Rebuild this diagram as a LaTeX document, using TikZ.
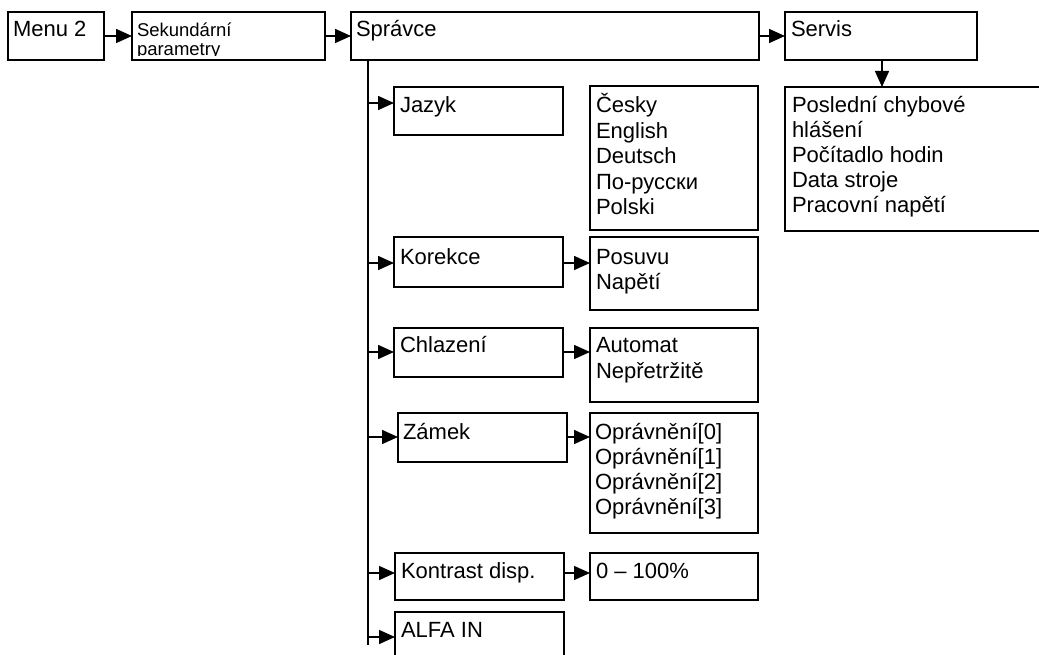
\documentclass[tikz,border=0pt]{standalone}
\usepackage{fontspec}
\setmainfont{Liberation Sans}
\usetikzlibrary{arrows.meta}
\tikzset{
  box/.style={draw, line width=1.5pt, inner sep=0pt, outer sep=0pt, anchor=north west},
  txt/.style={anchor=base west, inner sep=0pt, outer sep=0pt, font=\fontsize{22}{25.5}\selectfont},
  smalltxt/.style={anchor=base west, inner sep=0pt, outer sep=0pt, font=\fontsize{18.5}{19}\selectfont},
  arr/.style={line width=1.5pt, -{Triangle[length=16pt,width=14pt]}},
  trunk/.style={line width=1.5pt}
}
\begin{document}
\begin{tikzpicture}[x=1pt,y=-1pt]
\useasboundingbox (0,0) rectangle (1039,655);
\fill[white] (0,0) rectangle (1039,655);
\begin{scope}
\clip (0,0) rectangle (1039,655);
% top row
\node[box, minimum width=96pt, minimum height=48pt] (menu) at (8,12) {};
\node[txt] (menut) at (13,37) {Menu 2};
\node[box, minimum width=193pt, minimum height=48pt] (sek) at (132,12) {};
\begin{scope}
\clip (132,12) rectangle (325,55.2);
\node[smalltxt] (sekt1) at (137,36.5) {Sekundární};
\node[smalltxt] (sekt2) at (137,55.5) {parametry};
\end{scope}
\node[box, minimum width=408pt, minimum height=48pt] (spr) at (351,12) {};
\node[txt] (sprt) at (356,37) {Správce};
\node[box, minimum width=192pt, minimum height=48pt] (serv) at (785,12) {};
\node[txt] (servt) at (791,37) {Servis};
\node[box, minimum width=280pt, minimum height=144pt] (servopt) at (785,87) {};
\foreach \t [count=\i] in {Poslední chybové, hlášení, Počítadlo hodin, Data stroje, Pracovní napětí}
  \node[txt] (sv\i) at (792,{113+25*(\i-1)}) {\t};

\draw[arr] (menu.east) -- (sek.west);
\draw[arr] (sek.east) -- (spr.west);
\draw[arr] (spr.east) -- (serv.west);
\coordinate (servdown) at (882,60);
\draw[arr] (servdown) -- (servdown |- servopt.north);

% trunk
\coordinate (ttop) at (368,60);
\coordinate (tbot) at (368,645);
\draw[trunk] (ttop) -- (tbot);

% Jazyk
\node[box, minimum width=169pt, minimum height=48pt] (jaz) at (394,87) {};
\node[txt] (jazt) at (400,113) {Jazyk};
\node[box, minimum width=168pt, minimum height=144pt] (jazopt) at (590,86) {};
\foreach \t [count=\i] in {Česky, English, Deutsch, По-русски, Polski}
  \node[txt] (jz\i) at (596,{113+25.5*(\i-1)}) {\t};
\coordinate (b1) at (368,103);
\draw[arr] (b1) -- (b1 -| jaz.west);

% Korekce
\node[box, minimum width=169pt, minimum height=50pt] (kor) at (394,237) {};
\node[txt] (kort) at (400,265) {Korekce};
\node[box, minimum width=168pt, minimum height=73pt] (koropt) at (590,237) {};
\node[txt] (ko1) at (596,265) {Posuvu};
\node[txt] (ko2) at (596,290) {Napětí};
\coordinate (b2) at (368,263);
\draw[arr] (b2) -- (b2 -| kor.west);
\draw[arr] (kor.east |- b2) -- (b2 -| koropt.west);

% Chlazeni
\node[box, minimum width=169pt, minimum height=49pt] (chl) at (394,328) {};
\node[txt] (chlt) at (400,352) {Chlazení};
\node[box, minimum width=168pt, minimum height=74pt] (chlopt) at (590,328) {};
\node[txt] (ch1) at (596,352) {Automat};
\node[txt] (ch2) at (596,378) {Nepřetržitě};
\coordinate (b3) at (368,352);
\draw[arr] (b3) -- (b3 -| chl.west);
\draw[arr] (chl.east |- b3) -- (b3 -| chlopt.west);

% Zamek
\node[box, minimum width=169pt, minimum height=49pt] (zam) at (398,413) {};
\node[txt] (zamt) at (403,439) {Zámek};
\node[box, minimum width=168pt, minimum height=120pt] (zamopt) at (590,413) {};
\foreach \t [count=\i] in {Oprávnění[0], Oprávnění[1], Oprávnění[2], Oprávnění[3]}
  \node[txt] (zo\i) at (595,{439+25.3*(\i-1)}) {\t};
\coordinate (b4) at (368,437);
\draw[arr] (b4) -- (b4 -| zam.west);
\draw[arr] (zam.east |- b4) -- (b4 -| zamopt.west);

% Kontrast
\node[box, minimum width=169pt, minimum height=47pt] (kon) at (395,553) {};
\node[txt] (kont) at (401,578) {Kontrast disp.};
\node[box, minimum width=168pt, minimum height=47pt] (konopt) at (590,553) {};
\node[txt] (konoptt) at (596,578) {0 – 100\%};
\coordinate (b5) at (368,573);
\draw[arr] (b5) -- (b5 -| kon.west);
\draw[arr] (kon.east |- b5) -- (b5 -| konopt.west);

% ALFA IN
\node[box, minimum width=169pt, minimum height=60pt] (alfa) at (395,612) {};
\node[txt] (alfat) at (401,637) {ALFA IN};
\coordinate (b6) at (368,637);
\draw[arr] (b6) -- (b6 -| alfa.west);
\end{scope}
\end{tikzpicture}
\end{document}
